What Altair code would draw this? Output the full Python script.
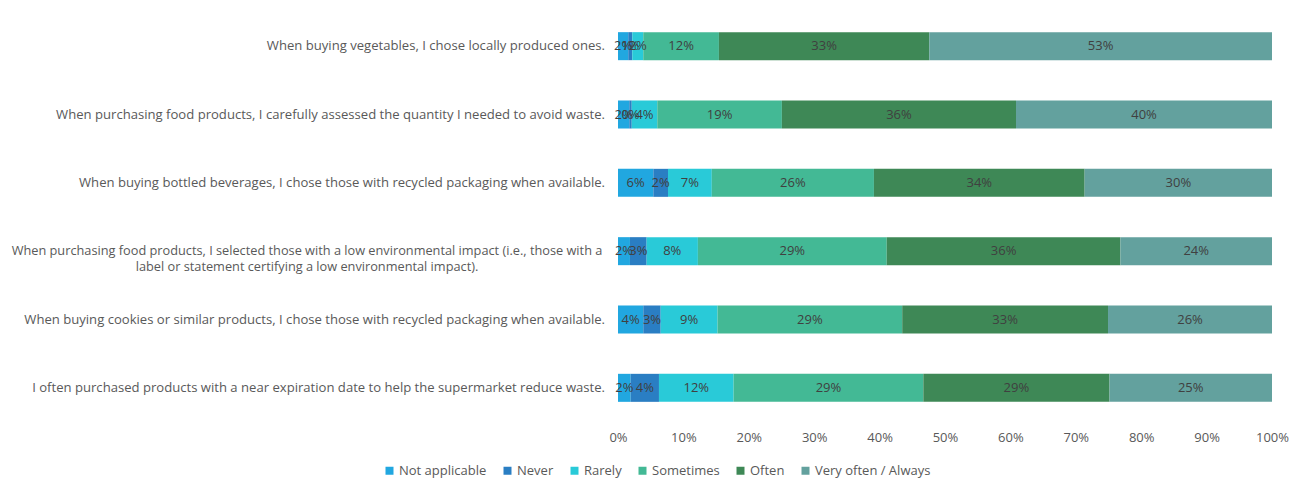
import altair as alt
import pandas as pd

questions = [
    "When buying vegetables, I chose locally produced ones.",
    "When purchasing food products, I carefully assessed the quantity I needed to avoid waste.",
    "When buying bottled beverages, I chose those with recycled packaging when available.",
    "When purchasing food products, I selected those with a low environmental impact (i.e., those with a label or statement certifying a low environmental impact).",
    "When buying cookies or similar products, I chose those with recycled packaging when available.",
    "I often purchased products with a near expiration date to help the supermarket reduce waste.",
]
question_labels = [
    "When buying vegetables, I chose locally produced ones.",
    "When purchasing food products, I carefully assessed the quantity I needed to avoid waste.",
    "When buying bottled beverages, I chose those with recycled packaging when available.",
    "When purchasing food products, I selected those with a low environmental impact (i.e., those with a\nlabel or statement certifying a low environmental impact).",
    "When buying cookies or similar products, I chose those with recycled packaging when available.",
    "I often purchased products with a near expiration date to help the supermarket reduce waste.",
]

categories = ["Not applicable", "Never", "Rarely", "Sometimes", "Often", "Very often / Always"]
colors = ["#21a7e0", "#2a7ec3", "#29cad8", "#43b995", "#3e8856", "#63a19e"]

not_applicable = [1.59, 1.75, 5.67, 1.86, 4.02, 1.96]
never = [0.62, 0.38, 2.36, 2.60, 2.77, 4.38]
rarely = [1.71, 3.96, 7.03, 7.98, 9.04, 11.55]
sometimes = [11.74, 19.32, 26.03, 29.40, 29.37, 29.36]
often = [32.65, 36.30, 33.83, 36.39, 32.73, 28.81]
very_often = [53.18, 39.69, 30.08, 23.60, 26.08, 25.15]

x_ticks = [0.0, 0.1, 0.2, 0.3, 0.4, 0.5, 0.6, 0.7, 0.8, 0.9, 1.0]

series = [not_applicable, never, rarely, sometimes, often, very_often]

rows = []
for qi, q in enumerate(questions):
    for ci, c in enumerate(categories):
        rows.append(dict(question=q, qi=qi, category=c, ci=ci, value=series[ci][qi]))
df = pd.DataFrame(rows)

qdf = pd.DataFrame(dict(
    question=questions,
    qlabel=question_labels,
    multi=[1 if "\n" in s else 0 for s in question_labels],
))

FONT = "Open Sans"
TXT = "#595959"

base = alt.Chart(df).transform_stack(
    stack="value", groupby=["question"], as_=["v0", "v1"],
    sort=[alt.SortField("ci")], offset="normalize",
).transform_calculate(
    mid="(datum.v0 + datum.v1) / 2",
    lab="round(datum.value) + '%'",
)

yscale = alt.Scale(paddingInner=0.59, paddingOuter=0.295)

bars = base.mark_bar().encode(
    x=alt.X("v0:Q", scale=alt.Scale(domain=[0, 1]),
            axis=alt.Axis(values=x_ticks, format=".0%", grid=False, domain=False, ticks=False,
                          title=None, labelFont=FONT, labelFontSize=13, labelColor=TXT,
                          labelPadding=9, labelFlush=False)),
    x2="v1:Q",
    y=alt.Y("question:N", sort=questions, scale=yscale,
            axis=alt.Axis(labels=False, ticks=False, title=None, domain=True,
                          domainColor="#d0d0d0", domainWidth=2)),
    color=alt.Color("category:N", scale=alt.Scale(domain=categories, range=colors),
                    sort=categories,
                    legend=alt.Legend(orient="none", legendX=-235, legendY=452,
                                      direction="horizontal", columns=6, title=None,
                                      symbolType="square", symbolSize=64, symbolStrokeWidth=0,
                                      labelFont=FONT, labelFontSize=13, labelColor=TXT,
                                      labelOffset=3, columnPadding=14)),
)

labels = base.mark_text(font=FONT, fontSize=13, color="#404040").encode(
    x=alt.X("mid:Q"),
    y=alt.Y("question:N", sort=questions, axis=None),
    text="lab:N",
)

ylab_single = alt.Chart(qdf).transform_filter("datum.multi == 0").mark_text(
    align="right", baseline="middle", font=FONT, fontSize=13.1, color=TXT,
).encode(
    x=alt.value(-13),
    y=alt.Y("question:N", sort=questions, axis=None),
    text="qlabel:N",
)

ylab_multi = alt.Chart(qdf).transform_filter("datum.multi == 1").mark_text(
    align="center", baseline="middle", font=FONT, fontSize=12.75, color=TXT,
    lineBreak="\n", lineHeight=16,
).encode(
    x=alt.value(-311),
    y=alt.Y("question:N", sort=questions, axis=None),
    text="qlabel:N",
)

chart = alt.layer(bars, labels, ylab_single, ylab_multi).properties(
    width=654, height=410,
    autosize=alt.AutoSizeParams(type="none"),
    padding={"left": 610, "top": 4, "right": 24, "bottom": 56},
).configure_view(stroke=None)

chart.save("out.html", embed_options={"renderer": "svg", "actions": False})
